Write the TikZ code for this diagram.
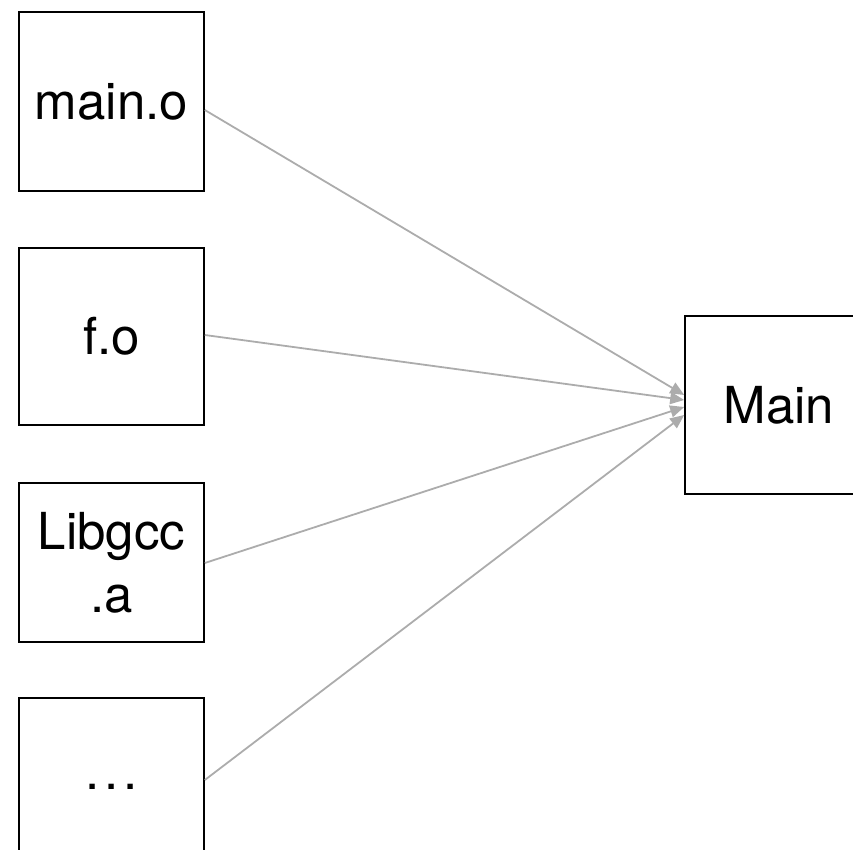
\documentclass[tikz,border=0pt]{standalone}
\usepackage{fontspec}
\setmainfont{TeX Gyre Heros}
\usetikzlibrary{arrows.meta}
\begin{document}
\begin{tikzpicture}
  [x=1pt,y=-1pt,every node/.style={draw,line width=1.6pt,font=\fontsize{51}{63}\selectfont,align=center,inner sep=0pt,minimum width=185pt},
   link/.style={draw=gray!65,line width=1.8pt,-{Triangle[length=14pt,width=12pt]}}]
  \useasboundingbox (0,0) rectangle (853,850);
  \clip (0,0) rectangle (853,850);
  \node[minimum height=179pt] (mo) at (111.5,101.5) {main.o};
  \node[minimum height=177pt] (fo) at (111.5,336.5)  {f.o};
  \node[minimum height=159pt] (lib) at (111.5,562.5)  {Libgcc\\.a};
  \node[minimum height=177pt] (etc) at (111.5,786.5) {.\hspace{0.1em}.\hspace{0.1em}.};
  \node[minimum width=188pt,minimum height=178pt] (mn) at (779,405) {Main};

  \foreach \from/\fy/\ty in {mo/-8.5/10,fo/1.5/5,lib/-0.5/-2,etc/6.5/-10}
    \draw[link] ([yshift=\fy pt]\from.east) -- ([yshift=\ty pt]mn.west);

\end{tikzpicture}
\end{document}
